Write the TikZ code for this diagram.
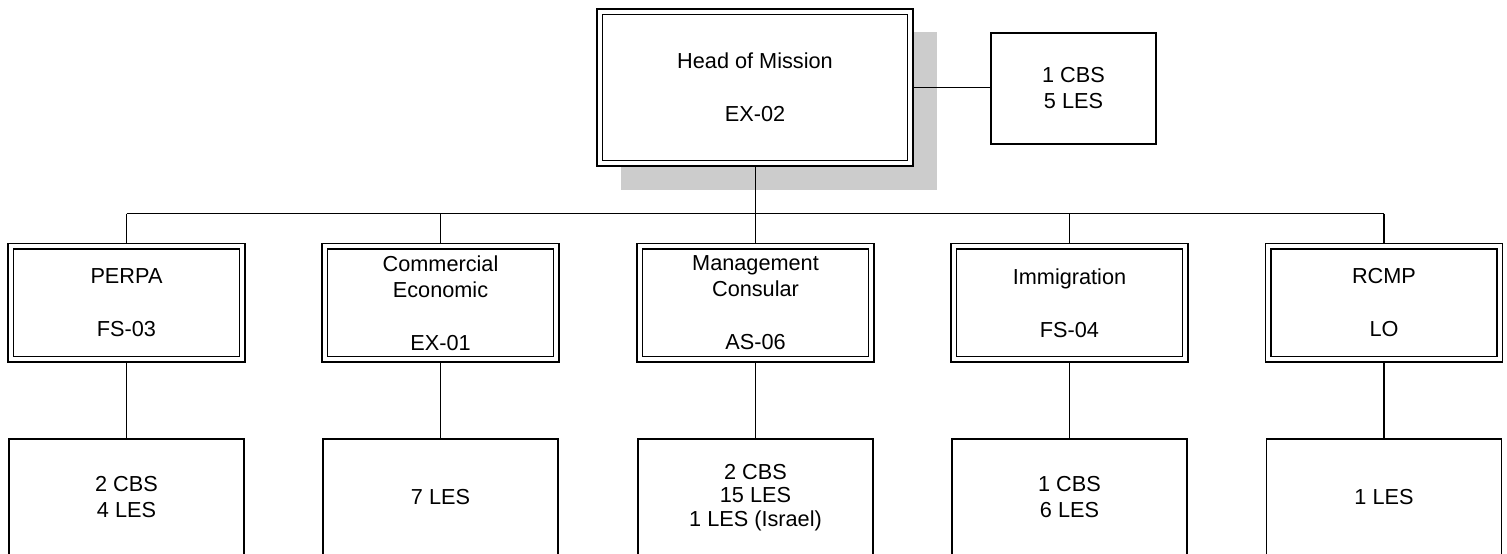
\documentclass[tikz,border=0pt]{standalone}
\usepackage{fontspec}
\setmainfont{Liberation Sans}
\usetikzlibrary{backgrounds}
\definecolor{shadowgray}{RGB}{204,204,204}
\begin{document}
\begin{tikzpicture}[x=1pt,y=-1pt,
  every node/.style={font=\fontsize{21.7}{26}\selectfont, align=center, inner sep=0pt},
  dbox/.style={draw=black, double=white, line width=1.3pt, double distance=4.2pt, fill=white,
    minimum width=231.5pt, minimum height=113pt},
  sbox/.style={draw=black, line width=1.4pt, fill=white, minimum width=235pt, minimum height=117pt},
  link/.style={draw=black, line width=1.4pt}]
\useasboundingbox (0,0) rectangle (1507,554);

% top
\node[dbox, minimum width=310.5pt, minimum height=151.5pt] (hom) at (755,87.5) {Head of Mission\\[27pt]EX-02};
\node[sbox, minimum width=165pt, minimum height=111pt] (hstaff) at (1073.5,88.5) {1 CBS\\5 LES};

% second row
\node[dbox] (perpa) at (126.5,302.75) {PERPA\\[27pt]FS-03};
\node[dbox] (comm)  at (440.5,302.75) {Commercial\\Economic\\[27pt]EX-01};
\node[dbox] (mgmt)  at (755.5,302.75) {Management\\Consular\\[27pt]AS-06};
\node[dbox] (immi)  at (1069.5,302.75) {Immigration\\[27pt]FS-04};
\node[dbox] (rcmp)  at (1384,302.75) {RCMP\\[27pt]LO};

% bottom row
\node[sbox] (perpas) at (126.5,497.5) {2 CBS\\4 LES};
\node[sbox] (comms)  at (440.5,497.5) {7 LES};
\node[sbox, font=\fontsize{21.7}{23.5}\selectfont] (mgmts) at (755.5,497.5) {2 CBS\\15 LES\\1 LES (Israel)};
\node[sbox] (immis)  at (1069.5,497.5) {1 CBS\\6 LES};
\node[sbox] (rcmps)  at (1384,497.5) {1 LES};

\coordinate (bus) at (755.5,213.5);

\begin{pgfonlayer}{background}
  \fill[shadowgray] (621,32) rectangle (937,190);
  \draw[link] (hom.east) -- (hom.east -| hstaff.west);
  \draw[link] (hom.south -| bus) -- (bus);
  \draw[link] (perpa.north |- bus) -- (rcmp.north |- bus);
  \foreach \n/\m in {perpa/perpas, comm/comms, mgmt/mgmts, immi/immis, rcmp/rcmps} {
    \draw[link] (\n.north |- bus) -- (\n.north);
    \draw[link] (\n.south) -- (\n.south |- \m.north);
  }
\end{pgfonlayer}
\end{tikzpicture}
\end{document}
